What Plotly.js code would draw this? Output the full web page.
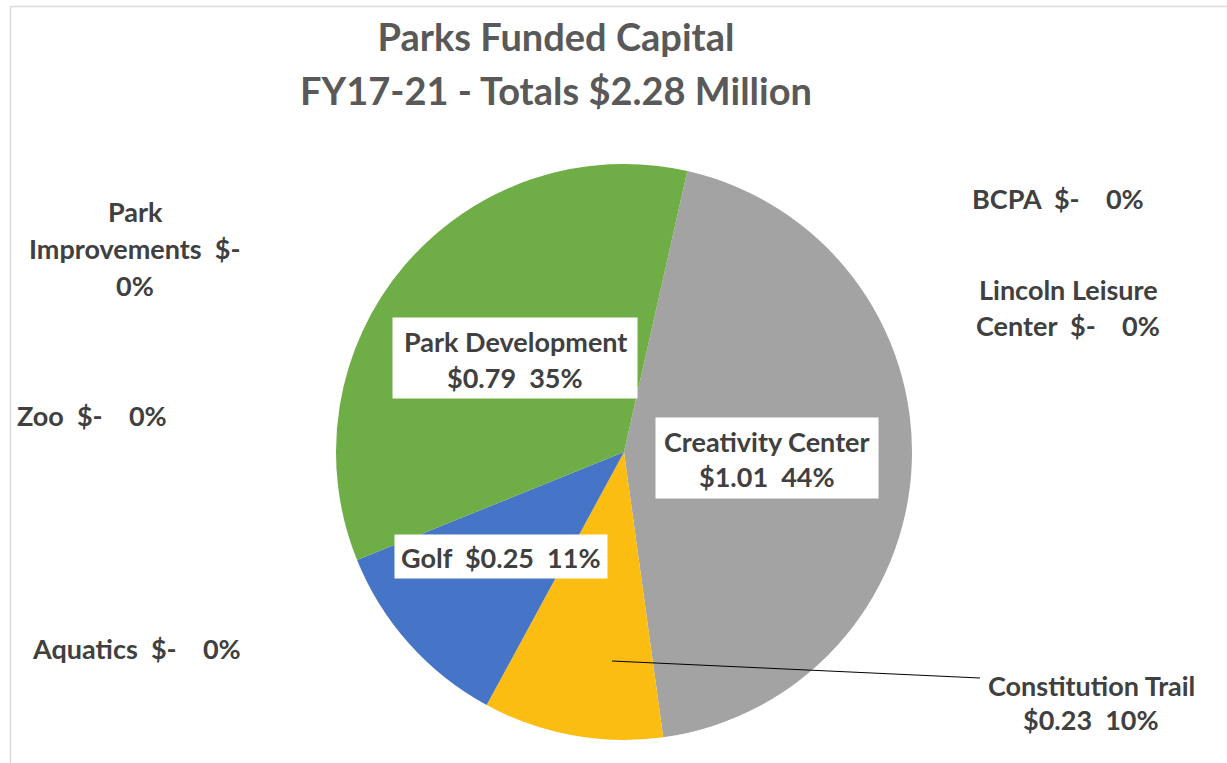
<!DOCTYPE html>
<html>
<head>
<meta charset="utf-8">
<script src="https://cdn.plot.ly/plotly-3.0.1.min.js"></script>
<style>html,body{margin:0;padding:0;background:#fff;}#chart{width:1227px;height:763px;}</style>
</head>
<body>
<div id="chart"></div>
<script>
// ---- data ----
const titleLines = ['Parks Funded Capital', 'FY17-21 - Totals $2.28 Million'];
const categories = ['BCPA', 'Lincoln Leisure Center', 'Creativity Center', 'Constitution Trail', 'Golf', 'Aquatics', 'Zoo', 'Park Improvements', 'Park Development'];
const valuesMillions = [0, 0, 1.01, 0.23, 0.25, 0, 0, 0, 0.79];
const sliceColors = ['#5b9bd5', '#ed7d31', '#a3a3a3', '#fbbd12', '#4674c6', '#264478', '#9e480e', '#636363', '#6fad47'];

// ---- layout helpers ----
const W = 1227, H = 763;
const px = x => x / W;
const py = y => 1 - y / H;
const NB = '\u00a0';
const total = valuesMillions.reduce((a, b) => a + b, 0);

function labelTokens(i) {
  const v = valuesMillions[i];
  const words = categories[i].split(' ');
  const valStr = v === 0 ? '$-' : '$' + v.toFixed(2);
  const pctStr = Math.round(v / total * 100) + '%';
  return {words, valStr, pctStr, zero: v === 0};
}
// split: number of tokens per line (tokens = name words..., value, pct)
function labelLines(i, split) {
  const t = labelTokens(i);
  const toks = t.words.map(w => ({s: w, sep: ' '}));
  toks.push({s: t.valStr, sep: NB + NB});
  toks.push({s: t.pctStr, sep: t.zero ? NB + NB + NB + NB : NB + NB});
  const lines = [];
  let k = 0;
  split.forEach(n => {
    let line = '';
    for (let j = 0; j < n; j++, k++) line += (j === 0 ? '' : toks[k].sep) + toks[k].s;
    lines.push(line);
  });
  return lines;
}

// label placement (pixel centres of first line, line spacing, optional box)
const labelPlacement = [
  {i: 0, x: 1058, y: 198, split: [3], dy: 36},
  {i: 1, x: 1068, y: 289, split: [2, 3], dy: 36},
  {i: 2, x: 767, y: 441, split: [2, 2], dy: 36, box: [656, 418, 878, 498]},
  {i: 3, x: 1091, y: 685, split: [2, 2], dy: 34},
  {i: 4, x: 501, y: 557, split: [3], dy: 36, box: [395, 535, 607, 578]},
  {i: 5, x: 136, y: 648, split: [3], dy: 36},
  {i: 6, x: 92, y: 415, split: [3], dy: 36},
  {i: 7, x: 135, y: 212, split: [1, 2, 1], dy: 37},
  {i: 8, x: 515, y: 342, split: [2, 2], dy: 35, box: [393, 318, 637, 398]}
];

const labelFont = {family: 'Lato, "Open Sans", sans-serif', size: 27, color: '#404040', weight: 700};
const titleFont = {family: 'Lato, "Open Sans", sans-serif', size: 38, color: '#595959', weight: 700};

const annotations = [];
labelPlacement.forEach(p => {
  if (p.box) {
    const [x0, y0, x1, y1] = p.box;
    annotations.push({
      xref: 'paper', yref: 'paper', x: px((x0 + x1) / 2), y: py((y0 + y1) / 2),
      xanchor: 'center', yanchor: 'middle', text: NB, showarrow: false,
      width: x1 - x0, height: y1 - y0, bgcolor: '#ffffff', borderpad: 0,
      font: {size: 10}
    });
  }
  labelLines(p.i, p.split).forEach((line, j) => {
    annotations.push({
      xref: 'paper', yref: 'paper', x: px(p.x), y: py(p.y + j * p.dy),
      xanchor: 'center', yanchor: 'middle', text: '<b>' + line + '</b>', showarrow: false,
      font: labelFont
    });
  });
});
// second title line
annotations.push({
  xref: 'paper', yref: 'paper', x: px(556), y: py(90), xanchor: 'center', yanchor: 'middle',
  text: '<b>' + titleLines[1] + '</b>', showarrow: false, font: titleFont
});

const cx = 624, cy = 452, r = 288;
const data = [{
  type: 'pie',
  labels: categories,
  values: valuesMillions,
  sort: false,
  direction: 'clockwise',
  rotation: 12.7,
  textinfo: 'none',
  hoverinfo: 'label+value+percent',
  marker: {colors: sliceColors, line: {width: 0}},
  domain: {x: [px(cx - r), px(cx + r)], y: [py(cy + r), py(cy - r)]},
  showlegend: false
}];

const layout = {
  width: W, height: H,
  margin: {l: 0, r: 0, t: 0, b: 0},
  paper_bgcolor: '#ffffff',
  showlegend: false,
  title: {
    text: '<b>' + titleLines[0] + '</b>', font: titleFont,
    x: px(556), xanchor: 'center', xref: 'container',
    y: py(38), yanchor: 'middle', yref: 'container'
  },
  annotations: annotations,
  shapes: [
    {type: 'line', xref: 'paper', yref: 'paper', x0: px(10.5), x1: px(1227), y0: py(6.5), y1: py(6.5), line: {color: '#d9d9d9', width: 1.5}},
    {type: 'line', xref: 'paper', yref: 'paper', x0: px(10.5), x1: px(10.5), y0: py(6.5), y1: py(763), line: {color: '#d9d9d9', width: 1.5}},
    {type: 'line', xref: 'paper', yref: 'paper', x0: px(612), x1: px(980), y0: py(661), y1: py(678), line: {color: '#000000', width: 1}}
  ]
};

Plotly.newPlot('chart', data, layout, {displayModeBar: false, staticPlot: true});
</script>
</body>
</html>
